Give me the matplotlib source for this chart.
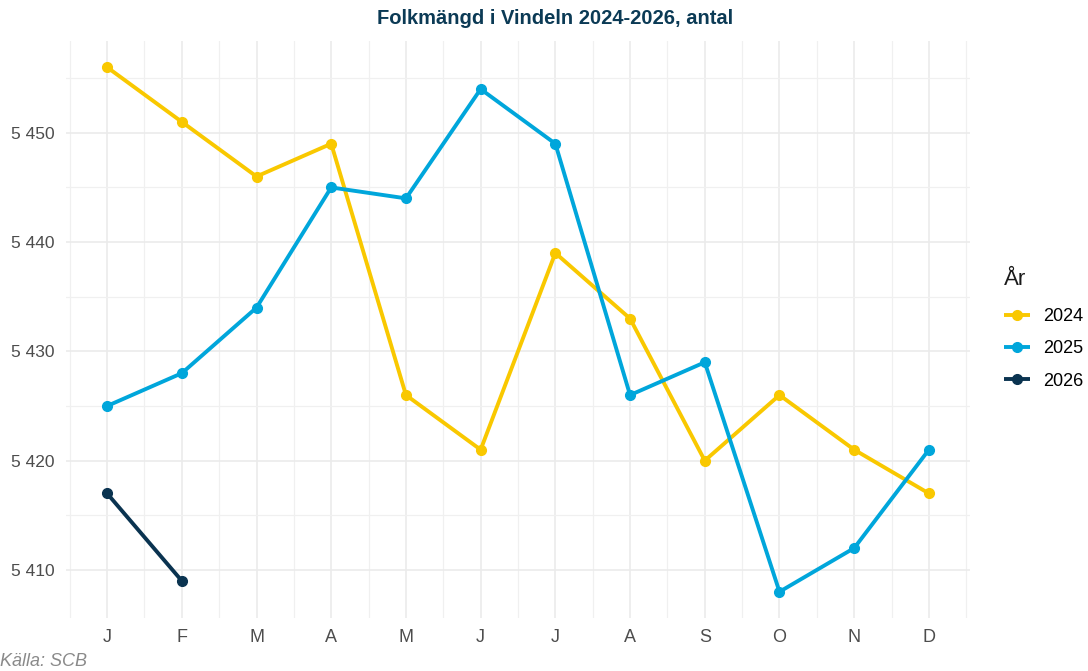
import matplotlib
matplotlib.use("Agg")
import matplotlib.pyplot as plt
from matplotlib.ticker import FuncFormatter, MultipleLocator
import numpy as np

plt.rcParams['font.family'] = ['Liberation Sans', 'DejaVu Sans']

months = ["J", "F", "M", "A", "M", "J", "J", "A", "S", "O", "N", "D"]
years = ["2024", "2025", "2026"]
v2024 = [5456, 5451, 5446, 5449, 5426, 5421, 5439, 5433, 5420, 5426, 5421, 5417]
v2025 = [5425, 5428, 5434, 5445, 5444, 5454, 5449, 5426, 5429, 5408, 5412, 5421]
v2026 = [5417, 5409]
colors = ["#F9C800", "#00A6DB", "#0A3350"]

fig = plt.figure(figsize=(10.88, 6.71), dpi=100)
ax = fig.add_axes([66/1088, 53/671, 904/1088, 577/671])

series = [v2024, v2025, v2026]
handles = []
for lab, vals, c in zip(years, series, colors):
    x = np.arange(1, len(vals) + 1)
    h, = ax.plot(x, vals, color=c, lw=2.8, marker='o', ms=7, label=lab,
                 solid_capstyle='butt', zorder=3)
    handles.append(h)

ax.set_xlim(0.45, 12.55)
ax.set_ylim(5405.6, 5458.4)
ax.set_xticks(np.arange(1, 13))
ax.set_xticklabels(months)
ax.xaxis.set_minor_locator(MultipleLocator(0.5))
ax.yaxis.set_major_locator(MultipleLocator(10))
ax.yaxis.set_minor_locator(MultipleLocator(5))
ax.yaxis.set_major_formatter(FuncFormatter(lambda v, p: f"{int(round(v)):,}".replace(",", " ")))

ax.grid(which='major', color='#EBEBEB', lw=1.2)
ax.grid(which='minor', color='#F0F0F0', lw=0.9)
ax.set_axisbelow(True)
for s in ax.spines.values():
    s.set_visible(False)
ax.tick_params(which='both', length=0)
ax.tick_params(axis='y', labelsize=12.5, labelcolor='#4D4D4D', pad=8)
ax.tick_params(axis='x', labelsize=13, labelcolor='#4D4D4D', pad=8)

fig.text(555/1088, 1 - 19/671, "Folkmängd i Vindeln 2024-2026, antal", ha='center', va='center',
         fontsize=14.5, fontweight='bold', color='#0B3A55')
fig.text(0, 1 - 661/671, "Källa: SCB", ha='left', va='center', fontsize=13,
         style='italic', color='#8A8A8A')

leg = fig.legend(handles=handles, labels=years, title="År", loc='upper left',
                 bbox_to_anchor=(997/1088, 1 - 262/671), frameon=False,
                 fontsize=13, title_fontsize=16, handlelength=1.4,
                 labelspacing=0.84, alignment='left', borderaxespad=0,
                 handletextpad=0.75)
leg.get_title().set_color('#1A1A1A')
leg._legend_box.sep = 13

fig.savefig("out.png", dpi=100)
